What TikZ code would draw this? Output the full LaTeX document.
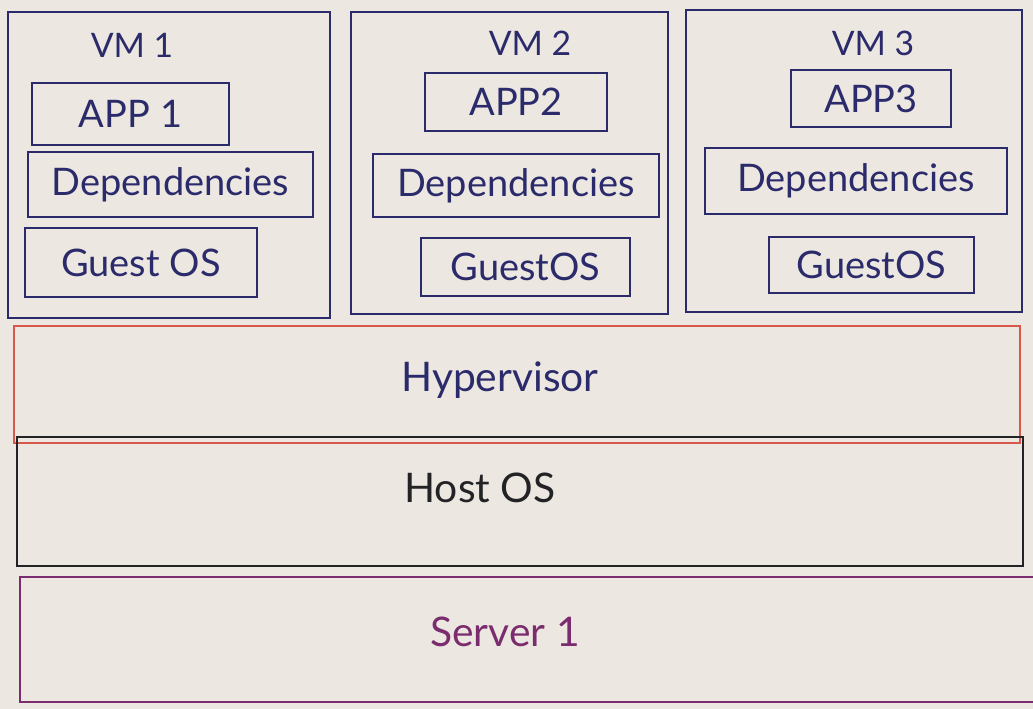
\documentclass[tikz,border=0pt]{standalone}
\usepackage{fontspec}
\setmainfont{Lato}
\usepackage{tikz}
\usetikzlibrary{positioning}
\definecolor{paper}{HTML}{ECE8E1}
\definecolor{ink}{HTML}{2B2A6B}
\definecolor{redink}{HTML}{D8584C}
\definecolor{blackink}{HTML}{232326}
\definecolor{purpleink}{HTML}{7B2C6E}

\begin{document}
\begin{tikzpicture}[
    x = 0.025cm, y = -0.025cm,
    vm/.style = {draw = ink, line width = 1.4pt, inner sep = 0pt},
    part/.style = {draw = ink, line width = 1.4pt, inner sep = 0pt,
        text = ink, font = \fontsize{27}{30}\selectfont},
    vmlabel/.style = {text = ink, font = \fontsize{24}{28}\selectfont},
    layer/.style = {line width = 1.3pt, inner sep = 0pt,
        font = \fontsize{29}{32}\selectfont}
  ]
  \fill[paper] (0,0) rectangle (1033,709);
  \clip (0,0) rectangle (1033,709);

  % virtual machines
  \node[vm, minimum width=8.05cm, minimum height=7.65cm] (VM1) at (169,165) {};
  \node[vm, minimum width=7.925cm, minimum height=7.55cm] (VM2) at (509.5,163) {};
  \node[vm, minimum width=8.4cm, minimum height=7.55cm] (VM3) at (854,161) {};

  \node[vmlabel] (L1) at (132,45) {VM 1};
  \node[vmlabel] (L2) at (530,43) {VM 2};
  \node[vmlabel] (L3) at (873,43) {VM 3};

  % VM 1
  \node[part, minimum width=4.925cm, minimum height=1.55cm] (APP1) at (130.5,114) {APP 1};
  \node[part, minimum width=7.125cm, minimum height=1.625cm] (DEP1) at (170.5,184.5) {Dependencies};
  \node[part, minimum width=5.8cm, minimum height=1.725cm] (OS1) at (141,262.5) {Guest OS};

  % VM 2
  \node[part, minimum width=4.55cm, minimum height=1.45cm] (APP2) at (516,102) {APP2};
  \node[part, minimum width=7.15cm, minimum height=1.575cm] (DEP2) at (516,185.5) {Dependencies};
  \node[part, minimum width=5.225cm, minimum height=1.45cm] (OS2) at (525.5,267) {GuestOS};

  % VM 3
  \node[part, minimum width=4.0cm, minimum height=1.425cm] (APP3) at (871,98.5) {APP3};
  \node[part, minimum width=7.55cm, minimum height=1.65cm] (DEP3) at (856,181) {Dependencies};
  \node[part, minimum width=5.125cm, minimum height=1.4cm] (OS3) at (871.5,265) {GuestOS};

  % layers
  \node[layer, draw=redink, minimum width=25.15cm, minimum height=2.925cm] (HYP) at (517,384.5) {};
  \node[text=ink, font=\fontsize{29}{32}\selectfont] (HYPT) at (500,380) {Hypervisor};
  \node[layer, draw=blackink, minimum width=25.15cm, minimum height=3.225cm] (HOST) at (520,501.5) {};
  \node[text=blackink, font=\fontsize{29}{32}\selectfont] (HOSTT) at (480,488) {Host OS};
  \node[layer, draw=purpleink, minimum width=25.5cm, minimum height=3.125cm] (SRV) at (530,639.5) {};
  \node[text=purpleink, font=\fontsize{29}{32}\selectfont] (SRVT) at (505,632) {Server 1};
\end{tikzpicture}
\end{document}
